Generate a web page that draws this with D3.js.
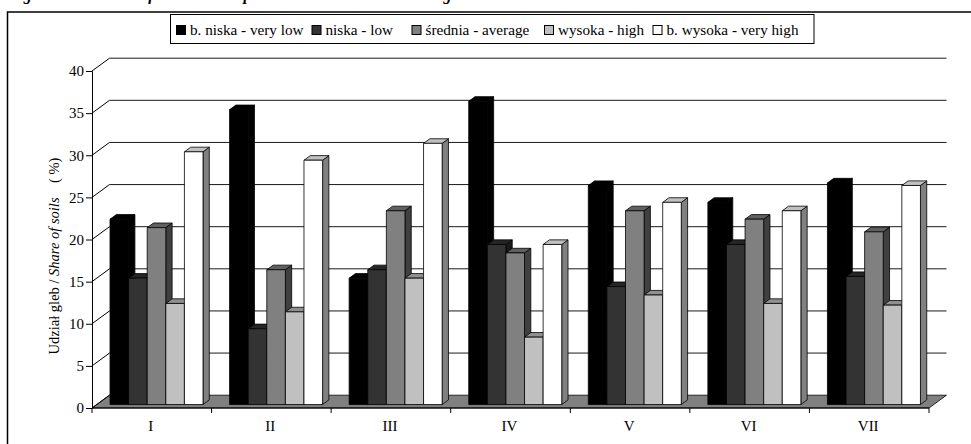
<!DOCTYPE html>
<html>
<head>
<meta charset="utf-8">
<script src="https://cdn.jsdelivr.net/npm/d3@7"></script>
<style>
  html, body { margin: 0; padding: 0; background: #fff; }
  svg { display: block; font-family: "Liberation Serif", "Times New Roman", serif; }
</style>
</head>
<body>
<svg id="chart" width="971" height="444"></svg>
<script>
// Regions (categories) and soil classes (series)
const categories = ["I", "II", "III", "IV", "V", "VI", "VII"];
const seriesNames = [
  "b. niska - very low",
  "niska - low",
  "średnia - average",
  "wysoka - high",
  "b. wysoka - very high"
];
// Share of soils (%) per class, one value per region
const veryLow  = [22, 35, 15, 36, 26, 24, 26.3];
const low      = [15,  9, 16, 19, 14, 19, 15.2];
const average  = [21, 16, 23, 18, 23, 22, 20.5];
const high     = [12, 11, 15,  8, 13, 12, 11.8];
const veryHigh = [30, 29, 31, 19, 24, 23, 26.0];
const yTicks = [0, 5, 10, 15, 20, 25, 30, 35, 40];

const series = [veryLow, low, average, high, veryHigh];
const faceColors = ["#000000", "#333333", "#808080", "#c0c0c0", "#ffffff"];
const topColors  = ["#000000", "#262626", "#606060", "#909090", "#c0c0c0"];
const sideColors = ["#000000", "#1a1a1a", "#404040", "#606060", "#808080"];

const svg = d3.select("#chart");

// Caption line (largely above the page edge)
svg.append("text")
  .attr("x", 5).attr("y", 0)
  .attr("font-size", 16).attr("font-weight", "bold").attr("font-style", "italic")
  .attr("textLength", 585).attr("lengthAdjust", "spacing")
  .text("Fig. 3. Content of available potassium in the investigated arable soils");

// Outer frame
svg.append("rect")
  .attr("x", 7.5).attr("y", 12).attr("width", 1000).attr("height", 500)
  .attr("fill", "none").attr("stroke", "#000").attr("stroke-width", 1.5);

// 3D geometry: front plane, depth offset
const x0 = 92, x1 = 929;
const DX = 17.5, DY = -12.8;
const F0 = 0.27, F1 = 0.63;

const xBand = d3.scaleBand().domain(categories).range([x0, x1]).paddingInner(0).paddingOuter(0);
const y = d3.scaleLinear().domain([0, 40]).range([408, 71]);
const groupW = 93;
const sBand = d3.scaleBand().domain(d3.range(series.length)).range([0, groupW]);

const P = (x, v, f) => [x + f * DX, y(v) + f * DY];
const poly = pts => pts.map(p => p.join(",")).join(" ");

// Floor
svg.append("polygon")
  .attr("points", poly([P(x0, 0, 0), P(x1, 0, 0), P(x1, 0, 1), P(x0, 0, 1)]))
  .attr("fill", "#808080").attr("stroke", "#000").attr("stroke-width", 0.8);

// Back wall gridlines and left wall diagonals
const grid = svg.append("g");
yTicks.forEach(t => {
  if (t > 0) {
    grid.append("line")
      .attr("x1", P(x0, t, 1)[0]).attr("y1", P(x0, t, 1)[1])
      .attr("x2", P(x1, t, 1)[0]).attr("y2", P(x1, t, 1)[1])
      .attr("stroke", "#1a1a1a").attr("stroke-width", 1);
  }
  grid.append("line")
    .attr("x1", P(x0, t, 0)[0]).attr("y1", P(x0, t, 0)[1])
    .attr("x2", P(x0, t, 1)[0]).attr("y2", P(x0, t, 1)[1])
    .attr("stroke", "#000").attr("stroke-width", 1);
});

// Bars
const bars = svg.append("g").attr("stroke", "#000").attr("stroke-width", 0.8).attr("stroke-linejoin", "round");
categories.forEach((c, ci) => {
  const gx = xBand(c) + (xBand.bandwidth() - groupW) / 2;
  series.forEach((vals, si) => {
    const v = vals[ci];
    const bx = gx + sBand(si), bw = sBand.bandwidth();
    bars.append("polygon")
      .attr("points", poly([P(bx + bw, 0, F0), P(bx + bw, 0, F1), P(bx + bw, v, F1), P(bx + bw, v, F0)]))
      .attr("fill", sideColors[si]);
    bars.append("polygon")
      .attr("points", poly([P(bx, v, F0), P(bx + bw, v, F0), P(bx + bw, v, F1), P(bx, v, F1)]))
      .attr("fill", topColors[si]);
    bars.append("polygon")
      .attr("points", poly([P(bx, 0, F0), P(bx + bw, 0, F0), P(bx + bw, v, F0), P(bx, v, F0)]))
      .attr("fill", faceColors[si]);
  });
});

// Y axis
const yAxis = d3.axisLeft(y).tickValues(yTicks).tickSize(6).tickPadding(2);
const yg = svg.append("g").attr("transform", `translate(${x0},0)`).call(yAxis);
yg.select(".domain").attr("stroke", "#000").attr("stroke-width", 1);
yg.selectAll(".tick line").attr("stroke", "#000");
yg.selectAll(".tick text")
  .attr("font-family", "'Liberation Serif', 'Times New Roman', serif")
  .attr("font-size", 15).attr("fill", "#000");

// X axis: front edge, ticks at category boundaries, labels centred
const xg = svg.append("g");
xg.append("line").attr("x1", x0).attr("x2", x1).attr("y1", y(0)).attr("y2", y(0))
  .attr("stroke", "#000").attr("stroke-width", 1.2);
categories.concat([null]).forEach(c => {
  const xx = c === null ? x1 : xBand(c);
  xg.append("line").attr("x1", xx).attr("x2", xx).attr("y1", y(0)).attr("y2", y(0) + 5)
    .attr("stroke", "#000").attr("stroke-width", 1);
});
categories.forEach(c => {
  xg.append("text")
    .attr("x", xBand(c) + xBand.bandwidth() / 2 - 1).attr("y", 431)
    .attr("text-anchor", "middle").attr("font-size", 15).text(c);
});

// Y axis title
const yt = svg.append("text")
  .attr("transform", "translate(59,256) rotate(-90)")
  .attr("text-anchor", "middle").attr("font-size", 14.5)
  .style("white-space", "pre");
yt.append("tspan").text("Udział gleb / ");
yt.append("tspan").attr("font-style", "italic").text("Share of soils");
yt.append("tspan").text("    ( %)");

// Legend
svg.append("rect")
  .attr("x", 170.5).attr("y", 14.5).attr("width", 643.5).attr("height", 29)
  .attr("fill", "#fff").attr("stroke", "#000").attr("stroke-width", 1);
const legendSq = [176, 311.5, 411.5, 544, 652.5];
const legend = svg.append("g");
seriesNames.forEach((name, i) => {
  legend.append("rect")
    .attr("x", legendSq[i] + 0.5).attr("y", 25.5).attr("width", 9).attr("height", 9)
    .attr("fill", faceColors[i]).attr("stroke", "#000").attr("stroke-width", 1);
  legend.append("text")
    .attr("x", legendSq[i] + 14).attr("y", 35)
    .attr("font-size", 15.2).text(name);
});
</script>
</body>
</html>
